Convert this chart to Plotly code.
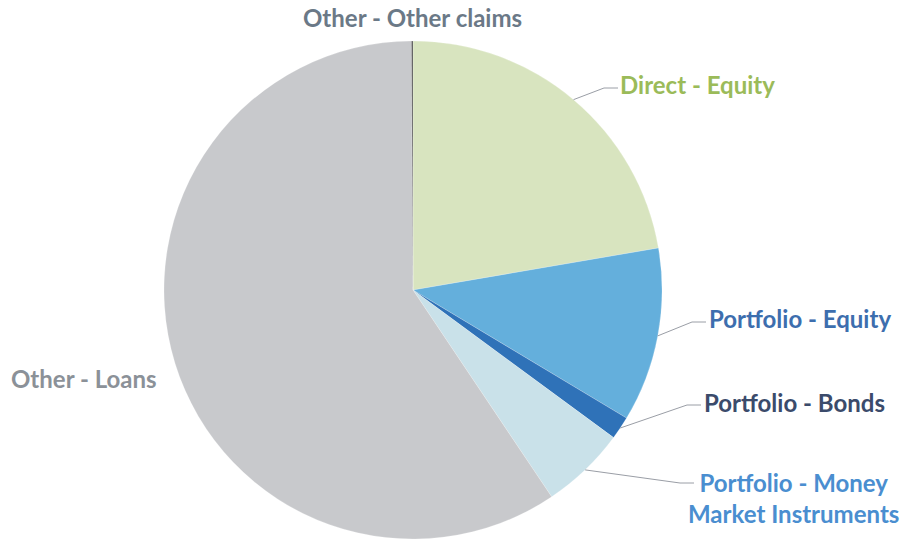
import math
import plotly.graph_objects as go

labels = ["Direct - Equity", "Portfolio - Equity", "Portfolio - Bonds",
          "Portfolio - Money Market Instruments", "Other - Loans", "Other - Other claims"]
values = [22.3, 11.3, 1.5, 5.5, 59.3, 0.1]
colors = ["#d8e4bf", "#64afdc", "#2f72b8", "#c9e1e9", "#c8c9cc", "#555555"]
label_text = ["Direct - Equity", "Portfolio - Equity", "Portfolio - Bonds",
              "Portfolio - Money<br>Market Instruments", "Other - Loans", "Other - Other claims"]
label_colors = ["#9bbb59", "#3d6eae", "#3b4b6b", "#4a8ed0", "#8b9198", "#6b7987"]

W, H = 904, 540
cx, cy, R = 413, 290, 249

# label anchor positions (pixels) and alignment
label_pos = [(618, 84, "left"), (707, 318, "left"), (702, 402, "left"),
             (793, 498, "center"), (9, 378, "left"), (412, 18, "center")]
line_end = [(618, 88), (706, 322), (701, 405), (694, 483), None, None]

fig = go.Figure(go.Pie(
    labels=labels, values=values, sort=False, direction="clockwise", rotation=0,
    marker=dict(colors=colors, line=dict(color="rgba(255,255,255,0.4)", width=0.5)),
    textinfo="none", hoverinfo="label+value", showlegend=False,
    domain=dict(x=[(cx - R) / W, (cx + R) / W], y=[(H - cy - R) / H, (H - cy + R) / H]),
))

def px2paper(x, y):
    return x / W, 1 - y / H

total = sum(values)
cum = 0
shapes = []
annotations = []
for i, v in enumerate(values):
    mid = (cum + v / 2) / total * 2 * math.pi
    cum += v
    sx = cx + R * math.sin(mid)
    sy = cy - R * math.cos(mid)
    if line_end[i] is not None:
        ex, ey = line_end[i]
        kx = ex - 14
        p0 = px2paper(sx, sy)
        p1 = px2paper(kx, ey)
        p2 = px2paper(ex, ey)
        shapes.append(dict(type="path", xref="paper", yref="paper",
                           path=f"M{p0[0]},{p0[1]} L{p1[0]},{p1[1]} L{p2[0]},{p2[1]}",
                           line=dict(color="#9a9ea6", width=1)))
    lx, ly, al = label_pos[i]
    ax, ay = px2paper(lx, ly)
    annotations.append(dict(
        x=ax, y=ay, xref="paper", yref="paper", text=label_text[i], showarrow=False,
        xanchor=al, yanchor="middle", align="center",
        font=dict(family="Lato", size=24, color=label_colors[i], weight="bold"),
    ))

fig.update_layout(
    width=W, height=H, margin=dict(l=0, r=0, t=0, b=0),
    paper_bgcolor="white", plot_bgcolor="white",
    shapes=shapes, annotations=annotations,
)
fig.write_html("out.html", config={"displayModeBar": False},
               post_script="document.body.style.margin='0px';")
